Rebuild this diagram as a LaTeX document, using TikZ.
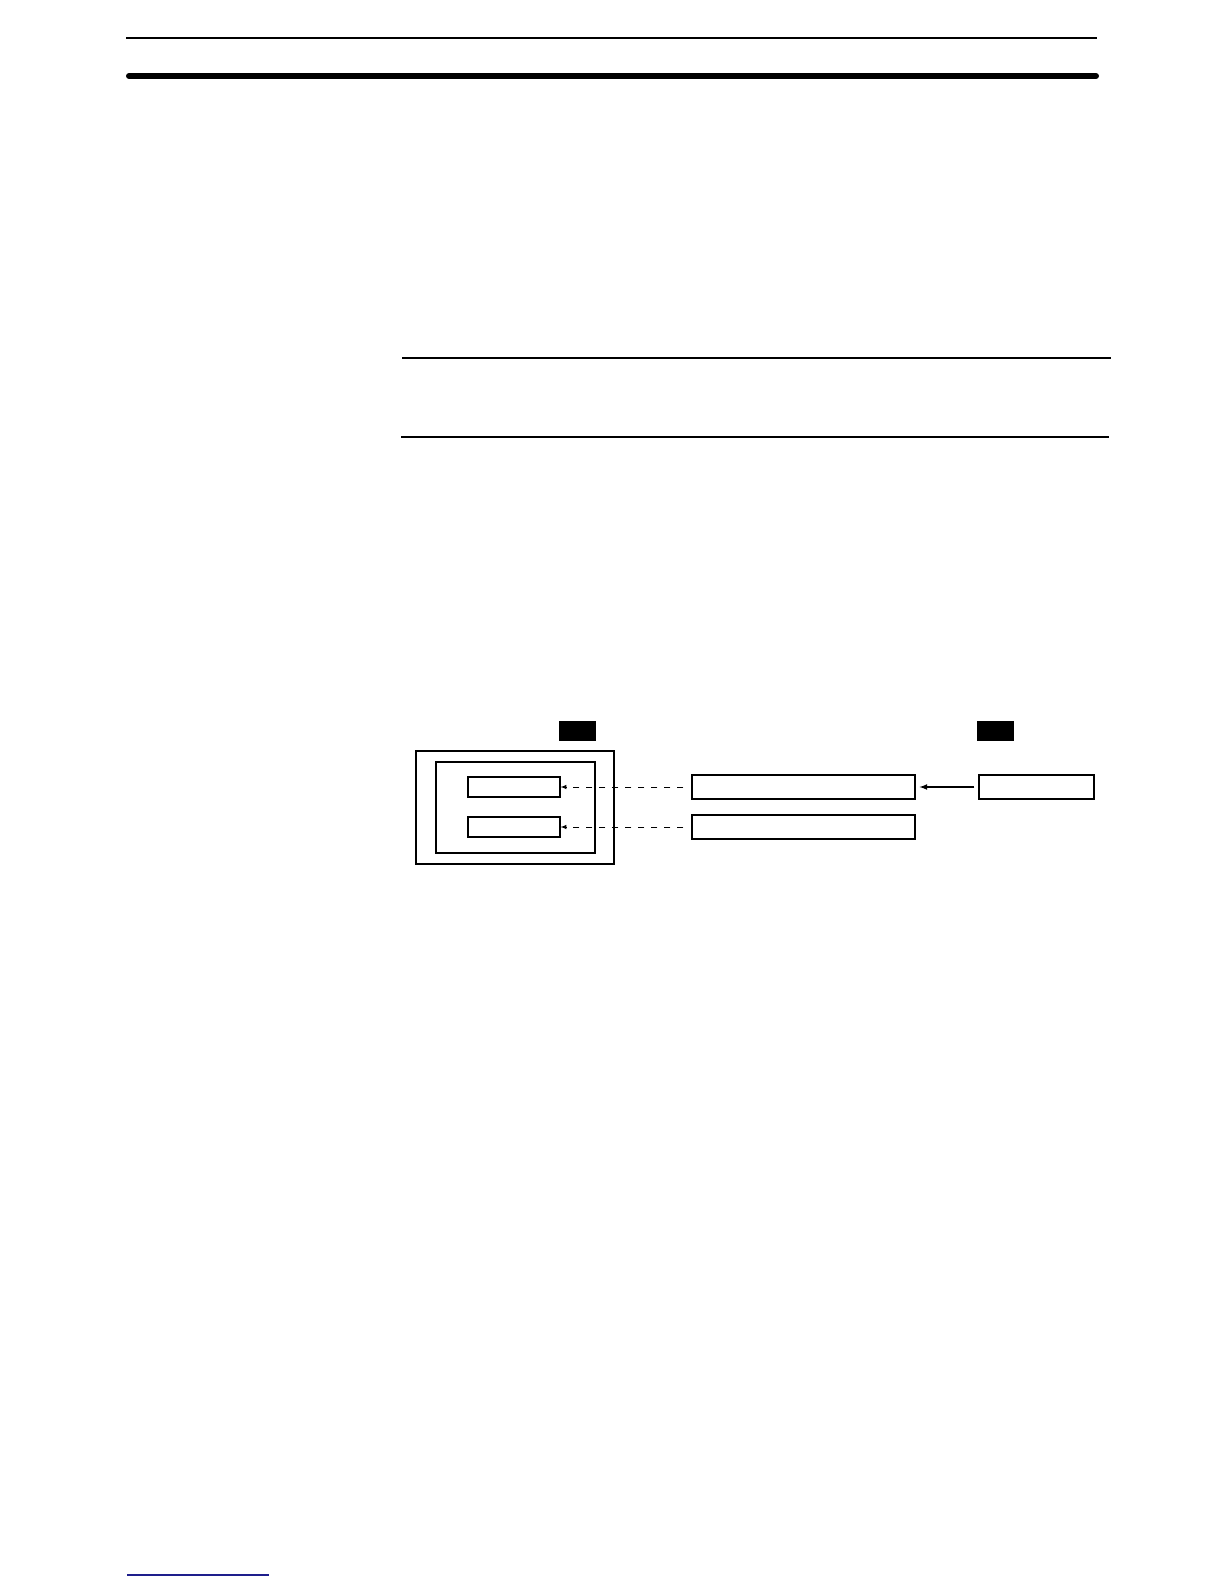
\documentclass[tikz,border=0pt]{standalone}
\usepackage{tikz}
\usetikzlibrary{shapes}
\usetikzlibrary{arrows}
\definecolor{footblue}{RGB}{30,30,140}
\tikzset{
  box/.style={draw,line width=1.1pt,rectangle,inner sep=0pt},
  tag/.style={fill=black,rectangle,inner sep=0pt,minimum width=37pt,minimum height=20pt},
  link/.style={-latex,line width=1pt,dash pattern=on 6pt off 7pt}
}
\begin{document}
\begin{tikzpicture}[x=1pt,y=-1pt]
\useasboundingbox (0,0) rectangle (1224,1584);
% page rules
\draw[line width=1.6pt] (126,38) -- (1097,38);
\draw[line width=6pt,line cap=round] (129,76) -- (1096,76);
\draw[line width=1.2pt] (402,358) -- (1111,358);
\draw[line width=1.2pt] (401,437) -- (1109,437);
\draw[line width=1.4pt,footblue] (127,1575) -- (269,1575);
% left unit
\node[box,minimum width=198pt,minimum height=113pt] (unit) at (515,807.5) {};
\node[box,minimum width=159pt,minimum height=91pt] (area) at (515.5,807.5) {};
\node[box,minimum width=92pt,minimum height=20pt] (wordA) at (514,787) {};
\node[box,minimum width=92pt,minimum height=20pt] (wordB) at (514,827) {};
\node[tag] (tagL) at (577.5,731) {};
% middle and right
\node[box,minimum width=223pt,minimum height=24pt] (dataA) at (803.5,787) {};
\node[box,minimum width=223pt,minimum height=24pt] (dataB) at (803.5,827) {};
\node[box,minimum width=115pt,minimum height=24pt] (src) at (1036.5,787) {};
\node[tag] (tagR) at (995.5,731) {};
% connectors
\draw[link,shorten <=8pt] (dataA.west) -- (wordA.east);
\draw[link,shorten <=8pt] (dataB.west) -- (wordB.east);
\draw[-latex,line width=1.6pt,shorten <=4pt,shorten >=4pt] (src.west) -- (dataA.east);
\end{tikzpicture}
\end{document}
